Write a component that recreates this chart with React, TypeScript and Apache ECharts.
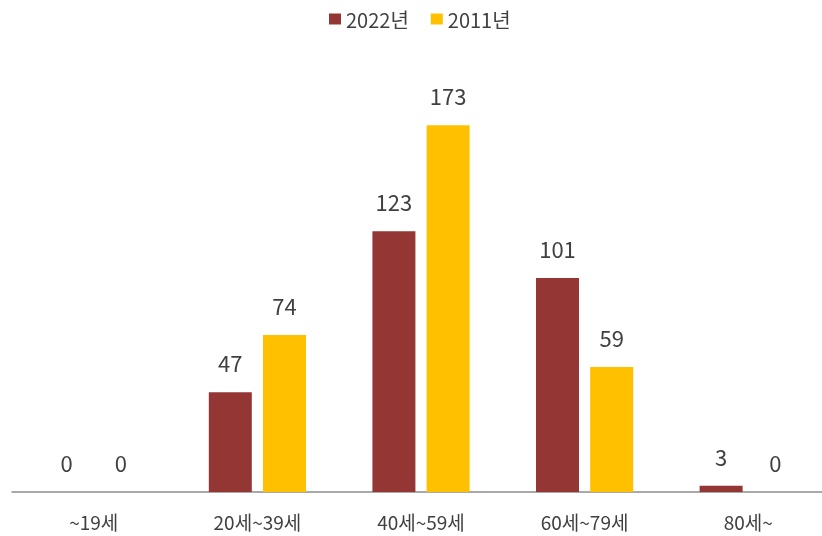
import React, { useEffect, useRef } from "react";
import * as echarts from "echarts";

const categories = ["~19세", "20세~39세", "40세~59세", "60세~79세", "80세~"];
const series2022 = [0, 47, 123, 101, 3];
const series2011 = [0, 74, 173, 59, 0];
const seriesNames = ["2022년", "2011년"];

export default function App() {
  const ref = useRef<HTMLDivElement>(null);
  useEffect(() => {
    if (!ref.current) return;
    const chart = echarts.init(ref.current, undefined, { renderer: "svg" });
    const font = "'Noto Sans CJK KR', 'Noto Sans', sans-serif";
    const label = {
      show: true,
      position: "top" as const,
      distance: 19,
      fontSize: 22,
      color: "#404040",
      fontFamily: font,
    };
    chart.setOption({
      animation: false,
      textStyle: { fontFamily: font },
      legend: {
        top: 4,
        left: 324,
        itemWidth: 12,
        itemHeight: 11,
        itemGap: 22,
        icon: "rect",
        textStyle: { fontSize: 20, color: "#404040", fontFamily: font },
        data: seriesNames,
      },
      grid: {
        left: 12,
        width: 818,
        top: 68,
        bottom: 44,
        containLabel: false,
        outerBoundsMode: "none",
      },
      xAxis: {
        type: "category",
        data: categories,
        axisLine: { lineStyle: { color: "#8c8c8c", width: 1.5 } },
        axisTick: { show: false },
        axisLabel: { fontSize: 19, color: "#404040", margin: 20, fontFamily: font },
      },
      yAxis: {
        type: "value",
        min: 0,
        max: 200,
        show: false,
        splitLine: { show: false },
      },
      series: [
        {
          name: seriesNames[0],
          type: "bar",
          data: series2022,
          barWidth: 43,
          barGap: "26%",
          itemStyle: { color: "#943634" },
          label,
        },
        {
          name: seriesNames[1],
          type: "bar",
          data: series2011,
          barWidth: 43,
          itemStyle: { color: "#FFC000" },
          label,
        },
      ],
    });
    return () => chart.dispose();
  }, []);
  return (
    <div
      ref={ref}
      style={{ position: "fixed", left: 0, top: 0, width: 822, height: 536 }}
    />
  );
}
